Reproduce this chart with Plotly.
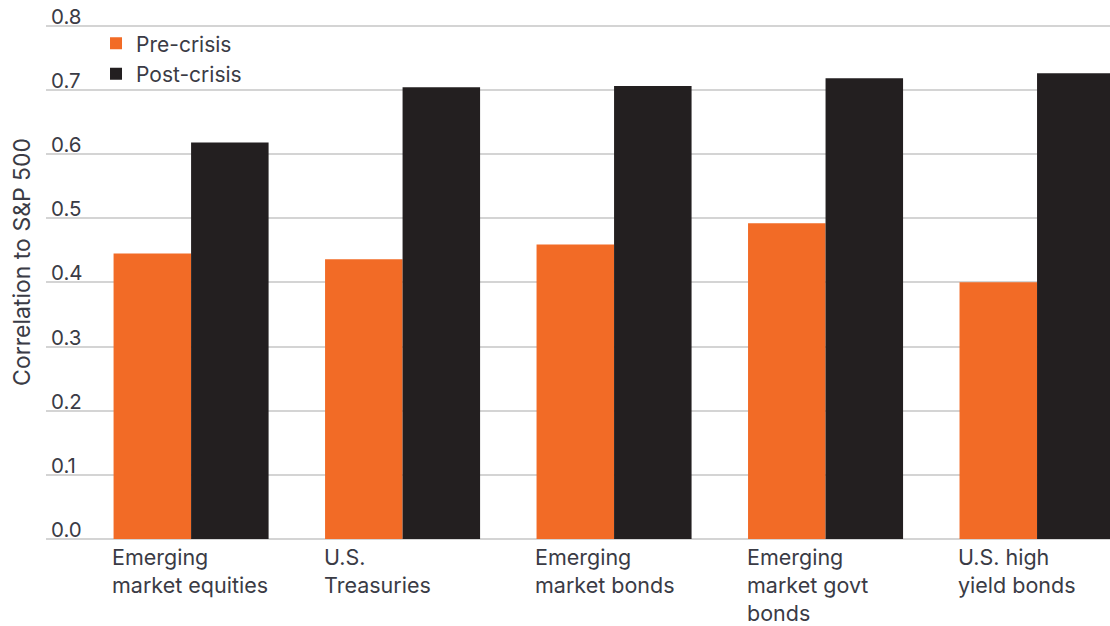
import plotly.graph_objects as go

categories = ["Emerging market equities", "U.S. Treasuries", "Emerging market bonds",
              "Emerging market govt bonds", "U.S. high yield bonds"]
category_labels = ["Emerging<br>market equities", "U.S.<br>Treasuries", "Emerging<br>market bonds",
                   "Emerging<br>market govt<br>bonds", "U.S. high<br>yield bonds"]
pre_crisis = [0.445, 0.436, 0.459, 0.492, 0.400]
post_crisis = [0.618, 0.704, 0.706, 0.718, 0.726]
y_ticks = [0.0, 0.1, 0.2, 0.3, 0.4, 0.5, 0.6, 0.7, 0.8]
y_tick_text = ["0.0", "0.1", "0.2", "0.3", "0.4", "0.5", "0.6", "0.7", "0.8"]

ORANGE = "#F26B26"
BLACK = "#231F20"
TEXT = "#3a3b45"
FONT = "Inter, Roboto, sans-serif"

fig = go.Figure()
fig.add_trace(go.Bar(x=categories, y=pre_crisis, name="Pre-crisis",
                     marker=dict(color=ORANGE, line=dict(width=0))))
fig.add_trace(go.Bar(x=categories, y=post_crisis, name="Post-crisis",
                     marker=dict(color=BLACK, line=dict(width=0))))

# category labels, left-aligned under each group
for cat, lab in zip(categories, category_labels):
    fig.add_annotation(x=cat, y=0, xref="x", yref="y", text=lab, showarrow=False,
                       xanchor="left", yanchor="top", align="left", xshift=-80, yshift=-4,
                       borderpad=0, font=dict(family=FONT, size=21.5, color=TEXT))

# y tick labels sitting on top of their gridlines
for v, t in zip(y_ticks, y_tick_text):
    fig.add_annotation(x=0, y=v, xref="paper", yref="y", text=t, showarrow=False,
                       xanchor="left", yanchor="bottom", xshift=3, yshift=-5,
                       font=dict(family=FONT, size=20.5, color=TEXT))

fig.add_annotation(x=-0.0226, y=0.514, xref="paper", yref="paper", text="Correlation to S&P 500",
                   textangle=-90, showarrow=False, xanchor="center", yanchor="middle",
                   font=dict(family=FONT, size=23, color=TEXT))

fig.update_layout(
    template="none",
    width=1110, height=626,
    margin=dict(l=46, r=0, t=0, b=87, autoexpand=False),
    paper_bgcolor="white", plot_bgcolor="white",
    barmode="group", bargap=0.267, bargroupgap=0,
    font=dict(family=FONT, size=20, color=TEXT),
    legend=dict(x=0.047, y=0.957, xanchor="left", yanchor="top", bgcolor="rgba(0,0,0,0)",
                font=dict(family=FONT, size=21, color=TEXT), tracegroupgap=0,
                itemwidth=30, borderwidth=0),
    showlegend=True,
)
fig.update_xaxes(range=[-0.686, 4.345], visible=False, showticklabels=False, showgrid=False,
                 showline=False, zeroline=False, ticks="")
fig.update_yaxes(range=[0, 0.8401], tickvals=y_ticks, showticklabels=False,
                 showgrid=True, gridcolor="#d4d4d4",
                 gridwidth=1.5, zeroline=True, zerolinecolor="#d4d4d4", zerolinewidth=1.5,
                 showline=False, ticks="", layer="below traces", automargin=False)

fig.write_html("out.html", config={"displayModeBar": False},
               post_script="document.body.style.margin='0';")
